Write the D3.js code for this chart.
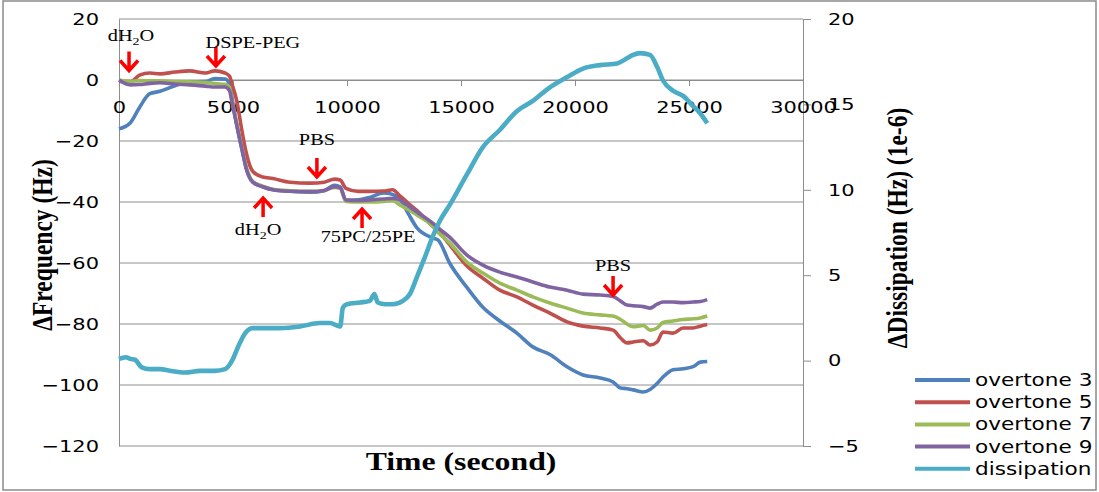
<!DOCTYPE html>
<html lang="en">
	<head>
		<meta charset="utf-8">
		<title>QCM-D: frequency and dissipation</title>
		<script type="text/javascript" src="https://d3js.org/d3.v7.min.js"></script>
		<style type="text/css">
			body { margin: 0; background: #fff; }
			.tick text { font-family: "DejaVu Sans", sans-serif; font-size: 16.5px; fill: #000; }
		</style>
	</head>
	<body>
		<script type="text/javascript">

			//Time grid (s) shared by the four overtones
			var tFreq = [0, 500, 900, 1350, 1800, 2450, 3100, 3800,
				4200, 4650, 4850, 4960, 5170, 5400, 5600, 5870,
				6300, 6750, 7500, 8400, 9000, 9450, 9700, 9950,
				10500, 11000, 11600, 12000, 12320, 12700, 13070, 13770,
				14000, 14500, 15260, 15960, 16700, 17450, 18150, 18900,
				19650, 20350, 21100, 21670, 22000, 22280, 22550, 23000,
				23290, 23600, 23860, 24300, 24740, 25180, 25500, 25800];

			//Delta frequency (Hz)
			var overtone3 = [-16, -14, -9, -4.5, -3.7, -1.9, -0.6, -0.5,
				0.5, 0.3, -1.5, -6, -15, -23, -29.5, -33.5,
				-35, -36, -36.5, -36.8, -36.3, -34.5, -35, -39.5,
				-39.3, -38.5, -37, -37.5, -39, -44, -48.5, -51.8,
				-52.5, -60, -68, -74.5, -79, -83, -87.5, -90,
				-94, -96.7, -97.7, -99, -101, -101.2, -101.6, -102.3,
				-101.5, -99.5, -97.4, -95, -94.7, -94, -92.5, -92.3];
			var overtone5 = [-0.5, -0.5, 1.6, 2.3, 2, 2.6, 3, 2.3,
				3, 2.3, 1.2, -1.5, -7, -17, -24.5, -30,
				-31.8, -32.3, -33.5, -33.8, -33.5, -32.5, -32.8, -35.5,
				-36.5, -36.5, -36.4, -36, -38, -40.5, -42.8, -48,
				-49.5, -54, -61, -65, -68.9, -71.1, -73.8, -76.4,
				-79.3, -80.7, -81.3, -82, -84.6, -86.2, -85.9, -85.5,
				-86.9, -85.9, -82.6, -83, -81.3, -81.3, -80.7, -80.2];
			var overtone7 = [0, -0.5, -0.2, -0.3, -0.3, -0.5, -0.6, -0.8,
				-1.2, -1.4, -2.5, -7, -14.5, -22.5, -29, -33.3,
				-34.8, -35.8, -36.3, -36.5, -36.2, -35.2, -35.5, -39.8,
				-40, -40, -39.8, -39.5, -41, -42.5, -44.3, -48,
				-50, -53.4, -59.7, -63.3, -66.6, -68.9, -71.1, -73.1,
				-74.8, -76.4, -77, -77.4, -78.5, -80, -80.9, -80.5,
				-82, -81.3, -79.5, -79, -78.5, -78.3, -78, -77.4];
			var overtone9 = [0, -1.6, -1.5, -1.1, -0.9, -1.3, -1.6, -2,
				-2.3, -2.3, -3.5, -7.5, -15, -23, -29.5, -33.5,
				-35, -36, -36.5, -36.6, -36.2, -35, -35.3, -39.3,
				-39.5, -39.3, -39, -38.8, -39.3, -41.3, -43.3, -47,
				-48.5, -51.5, -57.4, -60.7, -63, -64.6, -66.2, -67.9,
				-68.9, -70.2, -70.5, -71, -72.5, -73.8, -74, -74.3,
				-74.8, -73.5, -72.8, -72.8, -73, -72.8, -72.6, -72];

			//Dissipation (1e-6), on its own time samples
			var tDiss = [0, 300, 500, 700, 1000, 1350, 1800, 2240, 2900, 3550,
				4200, 4650, 4960, 5220, 5530, 5870, 6400, 7060, 7940, 8800,
				9250, 9700, 9820, 10000, 10570, 11000, 11200, 11350, 11670, 12000,
				12450, 12760, 13070, 13400, 13770, 14080, 14500, 15260, 15960, 16700,
				17450, 18150, 18900, 19650, 20350, 21100, 21850, 22280, 22550, 22850,
				23290, 23600, 23860, 24300, 24740, 25180, 25480, 25800];
			var dissipation = [0.1, 0.2, 0.1, 0.05, -0.4, -0.5, -0.5, -0.6, -0.7, -0.6,
				-0.6, -0.5, 0, 0.8, 1.6, 1.9, 1.9, 1.9, 2.0, 2.2,
				2.2, 2.0, 3.1, 3.3, 3.4, 3.5, 3.9, 3.4, 3.3, 3.3,
				3.5, 3.9, 4.9, 6.0, 7.3, 8.2, 9.1, 10.9, 12.5, 13.5,
				14.6, 15.2, 16, 16.6, 17.1, 17.3, 17.4, 17.7, 17.9, 18.0,
				17.9, 17.2, 16.4, 15.8, 15.5, 14.9, 14.5, 13.9];

			var seriesNames = ["overtone 3", "overtone 5", "overtone 7", "overtone 9", "dissipation"];
			var xTicks = [0, 5000, 10000, 15000, 20000, 25000, 30000];
			var freqTicks = [-120, -100, -80, -60, -40, -20, 0, 20];
			var dissTicks = [-5, 0, 5, 10, 15, 20];

			//Event labels: arrow at time t, tip at frequency f
			var events = ["dH|2|O", "DSPE-PEG", "PBS", "dH|2|O", "75PC/25PE", "PBS"];
			var eventTime = [440, 4250, 8680, 6320, 10660, 21670];
			var eventFreq = [3.1, 4.6, -31.8, -38.7, -42.3, -70.5];
			var eventDir = ["down", "down", "down", "up", "up", "down"];

			//Width and height
			var w = 1099;
			var h = 492;
			var stretchX = 1.27;   // the picture is a bit wider than natural text

			var colors = ["#4F81BD", "#C0504D", "#9BBB59", "#8064A2", "#4BACC6"];
			var gridColor = "#8e8e8e";

			var x = d3.scaleLinear().domain([0, 30000]).range([119, 803]);
			var yF = d3.scaleLinear().domain([-120, 20]).range([446, 19]);
			var yD = d3.scaleLinear().domain([-5, 20]).range([446, 19]);

			//widen text glyphs like the reference
			function stretch(sel) {
				sel.each(function() {
					var len = this.getComputedTextLength();
					d3.select(this)
						.attr("textLength", len * stretchX)
						.attr("lengthAdjust", "spacingAndGlyphs");
				});
			}

			//Create SVG element
			var svg = d3.select("body")
						.append("svg")
						.attr("width", w)
						.attr("height", h);

			//outer frame
			svg.append("rect")
				.attr("x", 3).attr("y", 1)
				.attr("width", w - 6).attr("height", h - 3)
				.attr("fill", "none")
				.attr("stroke", "#8a8a8a")
				.attr("stroke-width", 1.5);

			//horizontal gridlines
			svg.append("g").selectAll("line")
				.data(freqTicks)
				.enter()
				.append("line")
				.attr("x1", x(0)).attr("x2", x(30000))
				.attr("y1", function(d) { return yF(d); })
				.attr("y2", function(d) { return yF(d); })
				.attr("stroke", gridColor)
				.attr("stroke-width", 1);

			//left axis
			var gLeft = svg.append("g")
				.attr("transform", "translate(" + x(0) + ",0)")
				.call(d3.axisLeft(yF).tickValues(freqTicks).tickSize(0).tickPadding(20));
			gLeft.select(".domain").attr("stroke", gridColor);
			gLeft.selectAll(".tick text").call(stretch);

			//right axis
			var gRight = svg.append("g")
				.attr("transform", "translate(" + x(30000) + ",0)")
				.call(d3.axisRight(yD).tickValues(dissTicks).tickSize(8).tickPadding(17));
			gRight.select(".domain").attr("stroke", gridColor);
			gRight.selectAll(".tick line").attr("stroke", gridColor);
			gRight.selectAll(".tick text").call(stretch);

			//x axis crosses at 0 Hz
			var gBottom = svg.append("g")
				.attr("transform", "translate(0," + yF(0) + ")")
				.call(d3.axisBottom(x).tickValues(xTicks).tickFormat(d3.format("d")).tickSize(6).tickPadding(15));
			gBottom.select(".domain").attr("stroke", gridColor);
			gBottom.selectAll(".tick line").attr("stroke", gridColor);
			gBottom.selectAll(".tick text").call(stretch);

			//frequency lines
			var freqLine = d3.line()
				.x(function(d, i) { return x(tFreq[i]); })
				.y(function(d) { return yF(d); })
				.curve(d3.curveMonotoneX);

			var overtones = [overtone3, overtone5, overtone7, overtone9];
			svg.append("g").selectAll("path")
				.data(overtones)
				.enter()
				.append("path")
				.attr("d", freqLine)
				.attr("fill", "none")
				.attr("stroke", function(d, i) { return colors[i]; })
				.attr("stroke-width", 3.6)
				.attr("stroke-linejoin", "round");

			//dissipation line on the secondary axis
			var dissLine = d3.line()
				.x(function(d, i) { return x(tDiss[i]); })
				.y(function(d) { return yD(d); })
				.curve(d3.curveMonotoneX);

			svg.append("path")
				.datum(dissipation)
				.attr("d", dissLine)
				.attr("fill", "none")
				.attr("stroke", colors[4])
				.attr("stroke-width", 4.6)
				.attr("stroke-linejoin", "round");

			//event arrows and labels
			var gEv = svg.append("g");
			events.forEach(function(label, i) {
				var ax = x(eventTime[i]);
				var tip = yF(eventFreq[i]);
				var s = eventDir[i] == "down" ? -1 : 1;   // direction from tip to tail
				gEv.append("path")
					.attr("d", "M" + ax + "," + (tip + s * 19) + "L" + ax + "," + tip
						+ "M" + (ax - 9) + "," + (tip + s * 10) + "L" + ax + "," + tip + "L" + (ax + 9) + "," + (tip + s * 10))
					.attr("fill", "none")
					.attr("stroke", "#ff0000")
					.attr("stroke-width", 3.5);

				var ty = eventDir[i] == "down" ? tip - (i == 0 ? 29.5 : (i == 1 ? 18 : (i == 2 ? 32 : 24))) : tip + (i == 3 ? 37 : 33);
				var dx = [2, 37, 0, -5, 6, 0][i];
				var t = gEv.append("text")
					.attr("transform", "translate(" + (ax + dx) + "," + ty + ") scale(" + stretchX + ",1)")
					.attr("text-anchor", "middle")
					.style("font-family", "'Liberation Serif', serif")
					.style("font-size", "16px")
					.attr("fill", "#000");
				var parts = label.split("|");
				if (parts.length == 3) {
					t.append("tspan").text(parts[0]);
					t.append("tspan").attr("dy", 4).style("font-size", "11px").text(parts[1]);
					t.append("tspan").attr("dy", -4).text(parts[2]);
				} else {
					t.text(label);
				}
			});

			//axis titles
			svg.append("text")
				.attr("transform", "translate(52,245) rotate(-90) scale(1," + stretchX + ")")
				.attr("text-anchor", "middle")
				.style("font-family", "'Liberation Serif', serif")
				.style("font-weight", "bold")
				.style("font-size", "23.5px")
				.text("\u0394Frequency (Hz)");

			svg.append("text")
				.attr("transform", "translate(907,228) rotate(-90) scale(1," + stretchX + ")")
				.attr("text-anchor", "middle")
				.style("font-family", "'Liberation Serif', serif")
				.style("font-weight", "bold")
				.style("font-size", "23.5px")
				.text("\u0394Dissipation (Hz) (1e-6)");

			svg.append("text")
				.attr("transform", "translate(461,470) scale(" + stretchX + ",1)")
				.attr("text-anchor", "middle")
				.style("font-family", "'Liberation Serif', serif")
				.style("font-weight", "bold")
				.style("font-size", "25px")
				.text("Time (second)");

			//legend
			var legend = svg.append("g").selectAll("g")
				.data(seriesNames)
				.enter()
				.append("g")
				.attr("transform", function(d, i) { return "translate(915," + (380 + i * 22.2) + ")"; });

			legend.append("line")
				.attr("x1", 0).attr("x2", 55)
				.attr("stroke", function(d, i) { return colors[i]; })
				.attr("stroke-width", 4);

			legend.append("text")
				.attr("x", 60)
				.attr("y", 6)
				.style("font-family", "'DejaVu Sans', sans-serif")
				.style("font-size", "17px")
				.attr("fill", "#000")
				.text(function(d) { return d; })
				.call(stretch);

		</script>
	</body>
</html>
